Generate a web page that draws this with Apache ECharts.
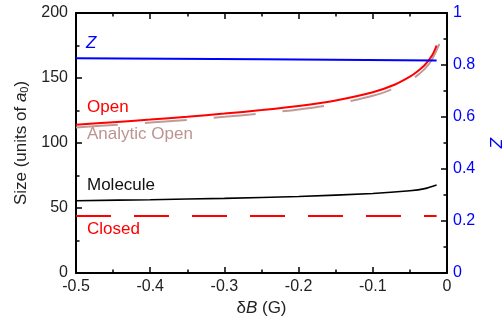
<!DOCTYPE html>
<html>
<head>
<meta charset="utf-8">
<script src="https://cdn.jsdelivr.net/npm/echarts@6/dist/echarts.min.js"></script>
<style>
  html, body { margin: 0; padding: 0; background: #fff; }
  #chart { width: 503px; height: 324px; }
</style>
</head>
<body>
<div id="chart"></div>
<script>
// field detuning dB (G) and curve readings
const openB = [-0.5, -0.45, -0.4, -0.35, -0.3, -0.25, -0.2, -0.15, -0.1, -0.07, -0.05, -0.04, -0.03, -0.02, -0.014];
const openSize = [114, 116, 118, 120.2, 122.6, 125.3, 128.5, 132.7, 139, 145, 151, 155, 160, 167.5, 175];

const analyticB = [-0.5, -0.45, -0.4, -0.35, -0.3, -0.25, -0.2, -0.15, -0.1, -0.07, -0.05, -0.04, -0.03, -0.02, -0.01, -0.004];
const analyticSize = [112, 113.8, 115.7, 117.8, 120.1, 122.7, 125.8, 130, 136.3, 142.3, 148, 152, 157, 164.5, 176.5, 187];

const moleculeB = [-0.5, -0.4, -0.3, -0.2, -0.1, -0.05, -0.03, -0.014];
const moleculeSize = [55.6, 56.4, 57.4, 58.8, 61.2, 63.3, 64.9, 67.7];

const closedB = [-0.5, -0.014];
const closedSize = [43.8, 43.8];

const zB = [-0.5, -0.25, -0.014];
const zValue = [0.826, 0.822, 0.817];

const pairs = (xs, ys) => xs.map((x, i) => [x, ys[i]]);

const font = 'Liberation Sans, Arial, sans-serif';
const chart = echarts.init(document.getElementById('chart'));

const tickStyle = { inside: true, length: 6, lineStyle: { color: '#000', width: 1.5 } };
const minorStyle = { show: true, splitNumber: 2, length: 3.5, lineStyle: { color: '#000', width: 1.5 } };
const lineAxis = { show: true, onZero: false, lineStyle: { color: '#000', width: 2 } };

chart.setOption({
  animation: false,
  grid: { left: 76, right: 56, top: 13, bottom: 51, outerBoundsMode: 'none', containLabel: false },
  xAxis: [{
    type: 'value', min: -0.5, max: 0, interval: 0.1, position: 'bottom',
    axisLine: lineAxis, axisTick: tickStyle, minorTick: minorStyle,
    splitLine: { show: false },
    axisLabel: { color: '#222', fontSize: 16, fontFamily: font, margin: 6,
      formatter: v => v === 0 ? '0' : String(v) },
    name: '{n|δ}{i|B}{n| (G)}', nameLocation: 'middle', nameGap: 26,
    nameTextStyle: { rich: {
      n: { fontSize: 17, fontFamily: font, color: '#222' },
      i: { fontSize: 17, fontFamily: font, color: '#222', fontStyle: 'italic' }
    } }
  }, {
    type: 'value', min: -0.5, max: 0, interval: 0.1, position: 'top',
    axisLine: lineAxis, axisTick: tickStyle, minorTick: minorStyle,
    splitLine: { show: false }, axisLabel: { show: false }
  }],
  yAxis: [{
    type: 'value', min: 0, max: 200, interval: 50, position: 'left',
    axisLine: lineAxis, axisTick: tickStyle, minorTick: minorStyle,
    splitLine: { show: false },
    axisLabel: { color: '#222', fontSize: 16, fontFamily: font, margin: 8 },
    name: '{n|Size (units of }{i|a}{s|0}{n|)}', nameLocation: 'middle', nameGap: 34,
    nameTextStyle: { rich: {
      n: { fontSize: 17, fontFamily: font, color: '#222' },
      i: { fontSize: 17, fontFamily: font, color: '#222', fontStyle: 'italic' },
      s: { fontSize: 11, fontFamily: font, color: '#222', padding: [8, 0, 0, 0] }
    } }
  }, {
    type: 'value', min: 0, max: 1, interval: 0.2, position: 'right',
    axisLine: lineAxis, axisTick: tickStyle, minorTick: minorStyle,
    splitLine: { show: false },
    axisLabel: { color: '#0000ff', fontSize: 16, fontFamily: font, margin: 6,
      formatter: v => String(v) },
    name: 'Z', nameLocation: 'middle', nameGap: 34, nameRotate: -90,
    nameTextStyle: { color: '#0000ff', fontSize: 17, fontFamily: font, fontStyle: 'italic' }
  }],
  series: [{
    name: 'Closed', type: 'line', data: pairs(closedB, closedSize), showSymbol: false,
    lineStyle: { color: '#ff0000', width: 2, type: [35, 23] }
  }, {
    name: 'Molecule', type: 'line', data: pairs(moleculeB, moleculeSize), showSymbol: false,
    smooth: 0.3, lineStyle: { color: '#000', width: 1.6 }
  }, {
    name: 'Analytic Open', type: 'line', data: pairs(analyticB, analyticSize), showSymbol: false,
    smooth: 0.3, lineStyle: { color: '#c09a96', width: 2, type: [42, 27] }
  }, {
    name: 'Open', type: 'line', data: pairs(openB, openSize), showSymbol: false,
    smooth: 0.3, lineStyle: { color: '#ff0000', width: 2 }
  }, {
    name: 'Z', type: 'line', yAxisIndex: 1, data: pairs(zB, zValue), showSymbol: false,
    lineStyle: { color: '#0000ff', width: 2 }
  }],
  graphic: [
    { type: 'text', left: 86, top: 35, style: { text: 'Z', fill: '#0000ff', font: 'italic 17px ' + font } },
    { type: 'text', left: 87, top: 99, style: { text: 'Open', fill: '#ff0000', font: '17px ' + font } },
    { type: 'text', left: 87, top: 126, style: { text: 'Analytic Open', fill: '#bc9490', font: '17px ' + font } },
    { type: 'text', left: 87, top: 177, style: { text: 'Molecule', fill: '#111', font: '17px ' + font } },
    { type: 'text', left: 87, top: 221, style: { text: 'Closed', fill: '#ff0000', font: '17px ' + font } }
  ]
});
</script>
</body>
</html>
